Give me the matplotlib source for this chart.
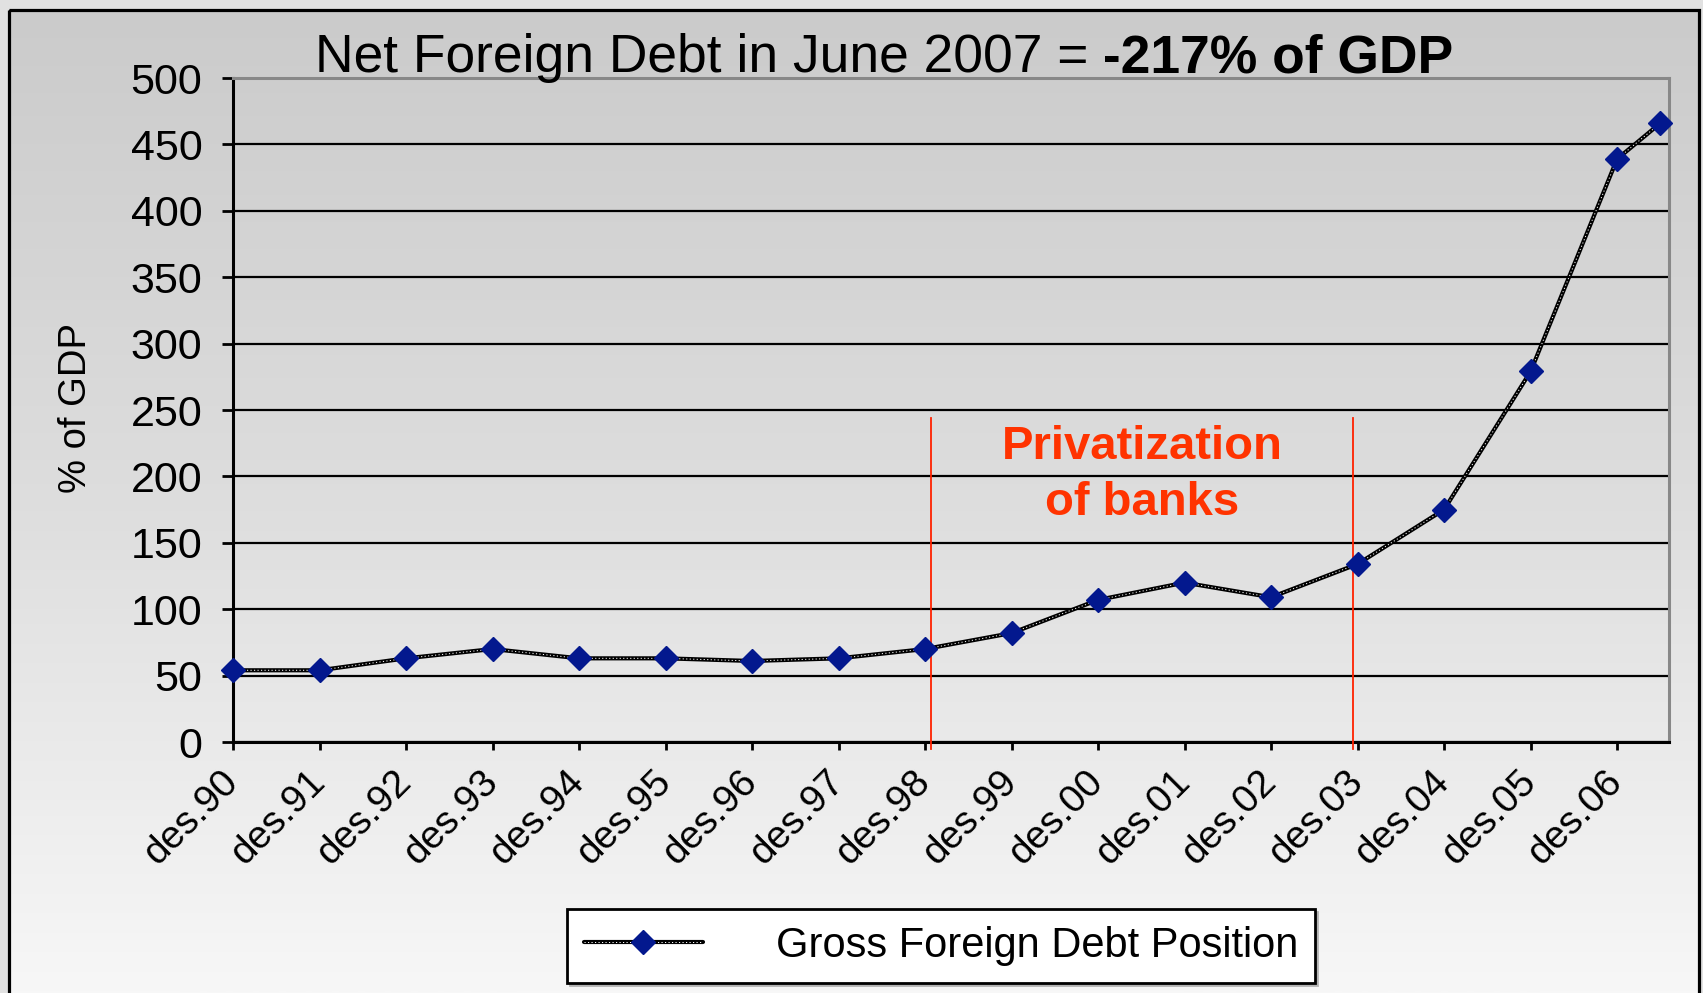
import matplotlib
matplotlib.use("Agg")
import matplotlib.pyplot as plt
import numpy as np
from matplotlib.patches import Rectangle
from matplotlib.legend_handler import HandlerTuple
from matplotlib.colors import LinearSegmentedColormap

plt.rcParams['font.family'] = ['Liberation Sans', 'DejaVu Sans']

# Gross foreign debt position, % of GDP (December of each year, last value June 2007)
periods = np.array([0, 1, 2, 3, 4, 5, 6, 7, 8, 9, 10, 11, 12, 13, 14, 15, 16, 16.5])
gross_debt = [54, 54, 63, 70, 63, 63, 61, 63, 70, 82, 107, 120, 109, 134, 175, 279, 439, 466]

tick_positions = list(range(17))
tick_labels = ['des.90', 'des.91', 'des.92', 'des.93', 'des.94', 'des.95', 'des.96',
               'des.97', 'des.98', 'des.99', 'des.00', 'des.01', 'des.02', 'des.03',
               'des.04', 'des.05', 'des.06']
y_ticks = list(range(0, 501, 50))

# privatization period markers
privatization_start = 8.07
privatization_end = 12.95
privatization_top = 244

W, H = 1703, 993
fig = plt.figure(figsize=(W / 100, H / 100), dpi=100)
fig.patch.set_facecolor('#e1e1e1')

# background panel with vertical gradient and black frame (pixel coordinates)
bg = fig.add_axes([0, 0, 1, 1], zorder=-10)
bg.axis('off')
grad = np.linspace(0, 1, 256).reshape(-1, 1)
cmap = LinearSegmentedColormap.from_list('bggrad', ['#cbcbcb', '#dedede', '#f8f8f8'])
bg.imshow(grad, cmap=cmap, aspect='auto', extent=(8.5, 1698.5, H + 20, 9.5),
          interpolation='bilinear')
bg.add_patch(Rectangle((8.5, 9.5), 1690, H + 40, fill=False, edgecolor='black',
                       linewidth=2.3, clip_on=False))
bg.set_xlim(0, W)
bg.set_ylim(H, 0)

ax = fig.add_axes([233 / W, 1 - 742 / H, (1669 - 233) / W, (742 - 78) / H])
ax.set_facecolor('none')
ax.set_xlim(0, 16.6)
ax.set_ylim(0, 500)

ax.set_yticks(y_ticks)
ax.yaxis.grid(True, color='black', linewidth=1.6)
ax.set_axisbelow(True)
ax.tick_params(axis='y', direction='out', length=8, width=2, labelsize=31, pad=14)
ax.set_xticks(tick_positions)
ax.set_xticklabels(tick_labels, rotation=45, ha='right', va='center',
                   rotation_mode='anchor', fontsize=28)
ax.tick_params(axis='x', direction='out', length=6, width=2, pad=19)

for side in ['left', 'bottom']:
    ax.spines[side].set_linewidth(2.2)
    ax.spines[side].set_color('black')
for side in ['top', 'right']:
    ax.spines[side].set_linewidth(2.2)
    ax.spines[side].set_color('#888888')

# privatization window
for xv in (privatization_start, privatization_end):
    ax.plot([xv, xv], [-5, privatization_top], color='#ff2200', linewidth=1.3,
            clip_on=False, zorder=3)
ax.text((privatization_start + privatization_end) / 2, 201, 'Privatization\nof banks',
        color='#ff3300', fontsize=34, fontweight='bold', ha='center', va='center',
        linespacing=1.34, zorder=3)

# series: black line with white dotted core and navy diamonds
navy = '#03188e'
l_black, = ax.plot(periods, gross_debt, color='black', linewidth=3.0, zorder=4,
                   solid_capstyle='round', clip_on=False)
l_white, = ax.plot(periods, gross_debt, color='white', linewidth=0.7, zorder=5,
                   linestyle=(0, (1.2, 2.4)), clip_on=False)
l_mark, = ax.plot(periods, gross_debt, linestyle='none', marker='D', markersize=12.5,
                  color=navy, markeredgecolor=navy, zorder=6, clip_on=False)

leg = fig.legend([(l_black, l_white, l_mark)], ['Gross Foreign Debt Position'],
                 handler_map={tuple: HandlerTuple(ndivide=1, pad=0)},
                 loc='center', bbox_to_anchor=(941 / W, 47 / H),
                 fontsize=30, frameon=True, fancybox=False, framealpha=1,
                 edgecolor='black', facecolor='white', handlelength=2.85,
                 handletextpad=1.75, numpoints=1, borderpad=0.4,
                 shadow={'color': '0.7', 'alpha': 1})
leg.get_frame().set_linewidth(2)

# title: regular part followed by bold part
t1 = fig.text(315 / W, 1 - 72 / H, 'Net Foreign Debt in June 2007 =', fontsize=38.4,
              ha='left', va='baseline')
ax.annotate(' -217% of GDP', xy=(1, 0), xycoords=t1, fontsize=38.4, fontweight='bold',
            ha='left', va='bottom', annotation_clip=False)

fig.text(76 / W, 1 - 408 / H, '% of GDP', rotation=90, fontsize=27.5,
         ha='center', va='center')

fig.savefig('out.png', dpi=100, facecolor=fig.get_facecolor())
